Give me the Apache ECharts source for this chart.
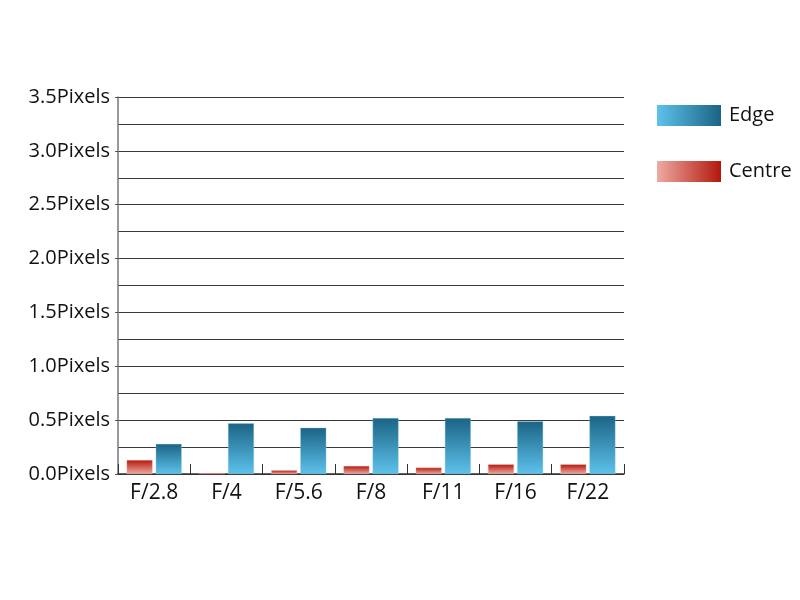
<!DOCTYPE html>
<html><head><meta charset="utf-8">
<script src="https://cdn.jsdelivr.net/npm/echarts@6/dist/echarts.min.js"></script>
<style>html,body{margin:0;padding:0;background:#fff}#c{width:800px;height:600px}</style>
</head><body><div id="c"></div>
<script>
const categories = ['F/2.8','F/4','F/5.6','F/8','F/11','F/16','F/22'];
const centreValues = [0.13,0.01,0.035,0.075,0.06,0.09,0.09];
const edgeValues = [0.28,0.47,0.43,0.52,0.52,0.49,0.54];
const seriesNames = ['Edge','Centre'];

const FONT = '"Open Sans", sans-serif';
function vgrad(top, bottom){return new echarts.graphic.LinearGradient(0,0,0,1,[{offset:0,color:top},{offset:1,color:bottom}]);}
function hgrad(left, right){return new echarts.graphic.LinearGradient(0,0,1,0,[{offset:0,color:left},{offset:1,color:right}]);}
const edgeTop='#1b6384', edgeBot='#5dc2ec', cenTop='#b3170b', cenBot='#eeaaa2';

const chart = echarts.init(document.getElementById('c'), null, {renderer:'canvas'});
chart.setOption({
  animation:false,
  backgroundColor:'#fff',
  grid:{left:118,right:176,top:97,bottom:126,containLabel:false},
  legend:{
    orient:'vertical', left:657, top:105, padding:0, icon:'rect', itemWidth:64, itemHeight:21, itemGap:35,
    textStyle:{fontFamily:FONT,fontSize:20,color:'#111',padding:[0,0,0,3]},
    data:[
      {name:seriesNames[0], itemStyle:{color:hgrad(edgeBot,edgeTop),borderWidth:0}},
      {name:seriesNames[1], itemStyle:{color:hgrad(cenBot,cenTop),borderWidth:0}}
    ]
  },
  xAxis:{
    type:'category', data:categories,
    axisLine:{lineStyle:{color:'#333',width:1.5}},
    axisTick:{show:true,inside:true,length:10,lineStyle:{color:'#333'}},
    axisLabel:{fontFamily:FONT,fontSize:21,color:'#111',margin:9}
  },
  yAxis:{
    type:'value', min:0, max:3.5, interval:0.5,
    axisLine:{show:true,lineStyle:{color:'#777',width:1.5}},
    axisTick:{show:true,length:3,lineStyle:{color:'#555'}},
    axisLabel:{fontFamily:FONT,fontSize:20,color:'#111',margin:8,formatter:v=>v.toFixed(1)+'Pixels'},
    splitLine:{show:true,lineStyle:{color:'#3a3a3a',width:1}},
    minorTick:{show:false,splitNumber:2},
    minorSplitLine:{show:true,lineStyle:{color:'#3a3a3a',width:1}}
  },
  series:[
    {name:seriesNames[1], type:'bar', data:centreValues, barWidth:'36%', barGap:'12%',
     itemStyle:{color:vgrad(cenTop,cenBot),borderColor:'rgba(255,200,190,0.6)',borderWidth:0.5}},
    {name:seriesNames[0], type:'bar', data:edgeValues, barWidth:'36%', barGap:'12%',
     itemStyle:{color:vgrad(edgeTop,edgeBot),borderColor:'rgba(150,210,235,0.7)',borderWidth:0.5}}
  ]
});
</script></body></html>
